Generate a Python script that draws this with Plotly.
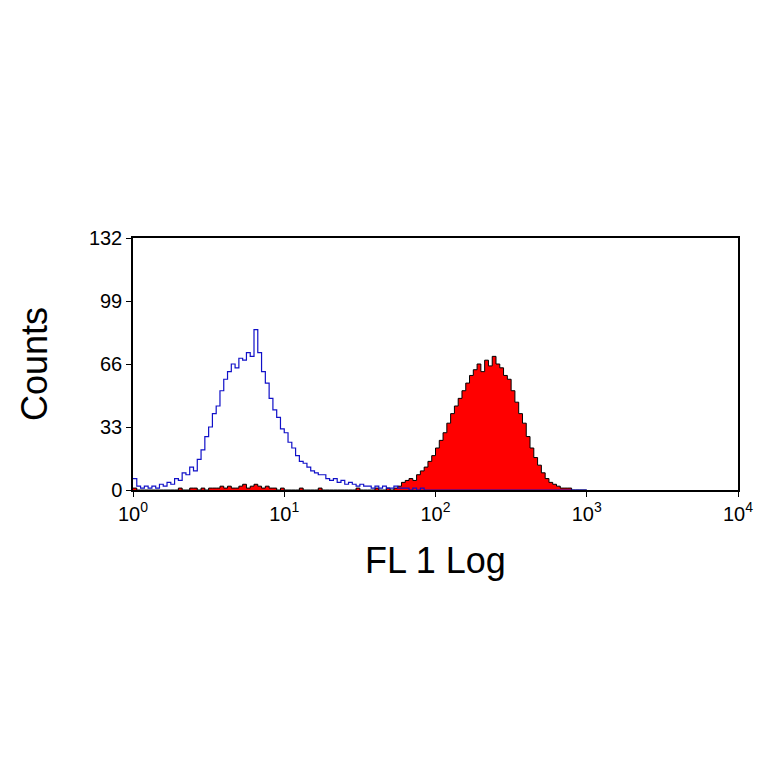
import plotly.graph_objects as go

log_bins = [round(i * 0.025, 3) for i in range(121)]

blue_counts = [6,2,1,2,1,2,1,3,2,4,3,6,5,9,8,12,10,16,21,28,33,40,44,52,58,62,66,64,69,68,72,70,84,72,62,56,48,42,38,32,30,25,22,18,15,14,12,10,9,8,8,6,5,6,4,5,3,4,3,2,3,2,2,1,2,1,2,1,1,2,1,1,1,0,1,0,1,0]
blue_counts += [0] * (121 - len(blue_counts))

red_counts = [1,0,0,0,0,0,0,0,0,0,0,0,1,0,0,1,1,0,
              1,0,1,1,1,2,1,2,1,1,2,3,1,2,3,2,1,2,1,1,0,1,0,
              0,0,0,1,0,0,0,0,1,0,0,0,0,0,0,0,0,0,1,0,0,0,0,1,0,0,1,0,1,
              2,4,5,6,5,8,10,12,15,18,22,26,30,35,40,44,48,52,56,60,63,66,62,68,65,70,66,64,60,58,52,46,40,35,28,22,17,13,9,6,4,3,2,1,1,1,0,0,0,0]
red_counts += [0] * (121 - len(red_counts))

x_vals = [10 ** e for e in log_bins]

fig = go.Figure()
fig.add_trace(go.Scatter(x=x_vals, y=red_counts, mode="lines", line=dict(color="black", width=1, shape="hv"),
                         fill="tozeroy", fillcolor="red"))
fig.add_trace(go.Scatter(x=x_vals, y=blue_counts, mode="lines", line=dict(color="#1010c8", width=1.2, shape="hv")))

fig.update_layout(
    width=764, height=764, paper_bgcolor="white", plot_bgcolor="white", showlegend=False,
    margin=dict(l=125, r=34, t=230, b=282),
    font=dict(family="Liberation Sans, Arial", color="black"),
    xaxis=dict(type="log", range=[0, 4], tickvals=[1, 10, 100, 1000, 10000],
               ticktext=["10<sup>0</sup>", "10<sup>1</sup>", "10<sup>2</sup>", "10<sup>3</sup>", "10<sup>4</sup>"],
               ticks="outside", ticklen=5, tickcolor="black", showline=True, linecolor="black", linewidth=1.5,
               mirror=True, showgrid=False, zeroline=False, tickfont=dict(size=20),
               title=dict(text="FL 1 Log", font=dict(size=36), standoff=24)),
    yaxis=dict(range=[0, 132], tickvals=[0, 33, 66, 99, 132], ticks="outside", ticklen=5, tickcolor="black",
               showline=True, linecolor="black", linewidth=1.5, mirror=True, showgrid=False, zeroline=False,
               tickfont=dict(size=20), title=dict(text="Counts", font=dict(size=36), standoff=30)),
)
fig.write_html("out.html")
